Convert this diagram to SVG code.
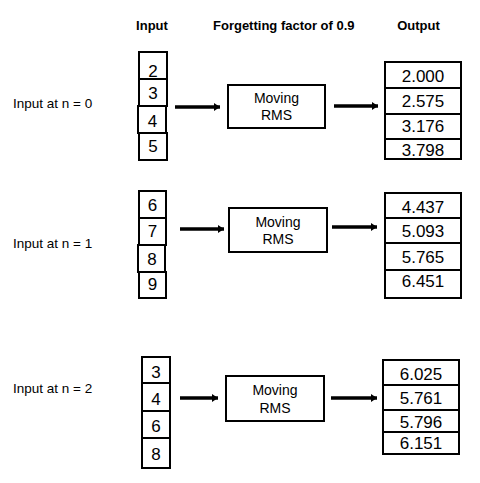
<svg xmlns="http://www.w3.org/2000/svg" width="480" height="483" viewBox="0 0 480 483">
<defs>
<marker id="ah" markerUnits="userSpaceOnUse" markerWidth="6" markerHeight="8" viewBox="0 0 6 8" refX="6" refY="4" orient="auto">
<path d="M0,0 L6,4 L0,8 z" fill="#000"/>
</marker>
<style>
.box{fill:#fff;stroke:#000;stroke-width:2}
.hd{font-family:"Liberation Sans",Arial,sans-serif;font-size:13px;font-weight:bold;fill:#000}
.lb{font-family:"Liberation Sans",Arial,sans-serif;font-size:13.5px;fill:#000}
.num{font-family:"Liberation Sans",Arial,sans-serif;font-size:17px;fill:#000;text-anchor:middle}
.rms{font-family:"Liberation Sans",Arial,sans-serif;font-size:14px;fill:#000;text-anchor:middle}
.arr{stroke:#000;stroke-width:3.5;fill:none;marker-end:url(#ah)}
</style>
</defs>
<rect width="480" height="483" fill="#fff"/>
<g id="headers">
<text class="hd" x="152" y="30" text-anchor="middle">Input</text>
<text class="hd" x="213" y="30">Forgetting factor of 0.9</text>
<text class="hd" x="418.5" y="30" text-anchor="middle">Output</text>
</g>
<g id="label0"><text class="lb" x="13" y="108">Input at n = 0</text></g>
<g id="label1"><text class="lb" x="13" y="248">Input at n = 1</text></g>
<g id="label2"><text class="lb" x="13" y="393">Input at n = 2</text></g>

<g id="input0">
<rect class="box" x="139" y="52" width="28" height="27"/>
<rect class="box" x="139" y="79" width="28" height="27"/>
<rect class="box" x="138" y="106" width="28" height="27"/>
<rect class="box" x="139" y="133" width="28" height="27"/>
<text class="num" x="153" y="76.5">2</text>
<text class="num" x="153" y="98.5">3</text>
<text class="num" x="152.5" y="126.5">4</text>
<text class="num" x="153" y="152">5</text>
</g>
<g id="rms0">
<rect class="box" x="228" y="85" width="97" height="43"/>
<text class="rms" x="276.5" y="103">Moving</text>
<text class="rms" x="276.5" y="120">RMS</text>
</g>
<g id="output0">
<rect class="box" x="385" y="62" width="76" height="97"/>
<line x1="385" y1="88" x2="461" y2="88" stroke="#000" stroke-width="2"/>
<line x1="385" y1="114" x2="461" y2="114" stroke="#000" stroke-width="2"/>
<line x1="385" y1="139" x2="461" y2="139" stroke="#000" stroke-width="2"/>
<text class="num" x="423" y="81.5">2.000</text>
<text class="num" x="423" y="106.5">2.575</text>
<text class="num" x="423" y="131.5">3.176</text>
<text class="num" x="423" y="155.5">3.798</text>
</g>

<g id="input1">
<rect class="box" x="139" y="191" width="27" height="27"/>
<rect class="box" x="139" y="218" width="27" height="27"/>
<rect class="box" x="138" y="245" width="27" height="27"/>
<rect class="box" x="139" y="272" width="27" height="26"/>
<text class="num" x="152.5" y="210.5">6</text>
<text class="num" x="152.5" y="236.5">7</text>
<text class="num" x="152" y="265">8</text>
<text class="num" x="152.5" y="290">9</text>
</g>
<g id="rms1">
<rect class="box" x="229" y="208" width="98" height="44"/>
<text class="rms" x="278" y="227">Moving</text>
<text class="rms" x="278" y="244">RMS</text>
</g>
<g id="output1">
<rect class="box" x="385" y="193" width="76" height="105"/>
<line x1="385" y1="218" x2="461" y2="218" stroke="#000" stroke-width="2"/>
<line x1="385" y1="243" x2="461" y2="243" stroke="#000" stroke-width="2"/>
<line x1="385" y1="270" x2="461" y2="270" stroke="#000" stroke-width="2"/>
<text class="num" x="423" y="213">4.437</text>
<text class="num" x="423" y="237">5.093</text>
<text class="num" x="423" y="262.5">5.765</text>
<text class="num" x="423" y="287">6.451</text>
</g>

<g id="input2">
<rect class="box" x="142" y="357" width="28" height="26"/>
<rect class="box" x="142" y="383" width="28" height="28"/>
<rect class="box" x="142" y="411" width="28" height="27"/>
<rect class="box" x="142" y="438" width="28" height="30"/>
<text class="num" x="156" y="377.5">3</text>
<text class="num" x="156" y="404.5">4</text>
<text class="num" x="156" y="431.5">6</text>
<text class="num" x="156" y="460">8</text>
</g>
<g id="rms2">
<rect class="box" x="226" y="376" width="98" height="45"/>
<text class="rms" x="275" y="395">Moving</text>
<text class="rms" x="275" y="412.5">RMS</text>
</g>
<g id="output2">
<rect class="box" x="383" y="360" width="76" height="94"/>
<line x1="383" y1="385" x2="459" y2="385" stroke="#000" stroke-width="2"/>
<line x1="383" y1="410" x2="459" y2="410" stroke="#000" stroke-width="2"/>
<line x1="383" y1="432" x2="459" y2="432" stroke="#000" stroke-width="2"/>
<text class="num" x="421" y="380">6.025</text>
<text class="num" x="421" y="404">5.761</text>
<text class="num" x="421" y="427.5">5.796</text>
<text class="num" x="421" y="448.5">6.151</text>
</g>

<g id="connectors">
<line class="arr" x1="175" y1="107" x2="220" y2="107"/>
<line class="arr" x1="334" y1="106" x2="378" y2="106"/>
<line class="arr" x1="180" y1="229" x2="224" y2="229"/>
<line class="arr" x1="332" y1="227" x2="377" y2="227"/>
<line class="arr" x1="180" y1="398" x2="218" y2="398"/>
<line class="arr" x1="331" y1="398" x2="377" y2="398"/>
</g>
</svg>
